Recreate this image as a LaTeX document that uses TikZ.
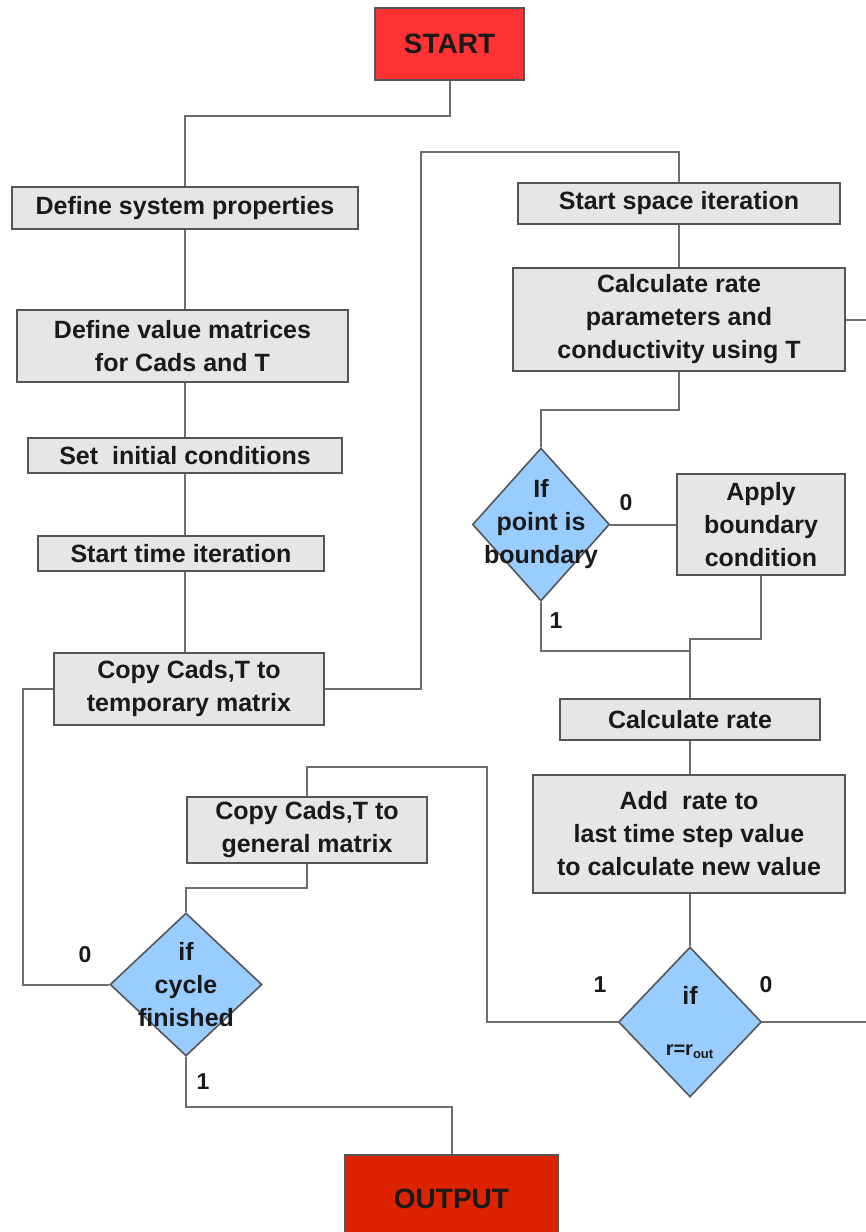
\documentclass[tikz,border=0pt]{standalone}
\usepackage{fontspec}
\setmainfont{Liberation Sans}
\usetikzlibrary{shapes.geometric}
\definecolor{boxfill}{HTML}{E6E6E6}
\definecolor{boxline}{HTML}{555555}
\definecolor{linegray}{HTML}{6E6E6E}
\definecolor{diafill}{HTML}{99CCFF}
\definecolor{startred}{HTML}{FF3333}
\definecolor{outred}{HTML}{DD2200}
\definecolor{txt}{HTML}{1A1A1A}
\tikzset{
  box/.style={draw=boxline, fill=boxfill, line width=0.9pt, inner sep=0pt, align=center,
    text=txt, font=\bfseries\fontsize{12.5}{16.5}\selectfont},
  termbox/.style={box, font=\bfseries\fontsize{14}{17}\selectfont},
  dia/.style={diamond, draw=boxline, fill=diafill, line width=0.8pt, inner sep=0pt},
  dtext/.style={align=center, text=txt, inner sep=0pt, font=\bfseries\fontsize{12.5}{16.5}\selectfont},
  conn/.style={draw=linegray, line width=1pt},
  lbl/.style={text=txt, inner sep=0pt, font=\bfseries\fontsize{11.5}{13}\selectfont}
}
\begin{document}
\begin{tikzpicture}[x=0.5pt,y=-0.5pt]
\useasboundingbox (0,0) rectangle (866,1232);

% nodes
\node[termbox, fill=startred, minimum width=74.5pt, minimum height=36pt] (start) at (449.5,44) {START};
\node[box, minimum width=173pt, minimum height=21pt] (sys) at (185,208) {Define system properties};
\node[box, minimum width=165.5pt, minimum height=36pt] (val) at (182.5,346) {Define value matrices\\for Cads and T};
\node[box, minimum width=157pt, minimum height=17.5pt] (init) at (185,455.5) {Set\ \ initial conditions};
\node[box, minimum width=143pt, minimum height=17.5pt] (time) at (181,553.5) {Start time iteration};
\node[box, minimum width=135pt, minimum height=36pt] (tmp) at (189,689) {Copy Cads,T to\\temporary matrix};
\node[box, minimum width=161pt, minimum height=20.5pt] (space) at (679,203.5) {Start space iteration};
\node[box, minimum width=166pt, minimum height=51.5pt] (rpar) at (679,319.5) {Calculate rate\\parameters and\\conductivity using T};
\node[dia, minimum width=68.5pt, minimum height=76.5pt,
  label={[dtext]center:{If\\point is\\boundary}}] (bnd) at (541,524.5) {};
\node[box, minimum width=84pt, minimum height=50.5pt] (apply) at (761,524.5) {Apply\\boundary\\condition};
\node[box, minimum width=130pt, minimum height=20.5pt] (crate) at (690,719.5) {Calculate rate};
\node[box, minimum width=156pt, minimum height=59pt] (add) at (689,834) {Add\ \ rate to\\last time step value\\to calculate new value};
\node[dia, minimum width=71.5pt, minimum height=75pt,
  label={[dtext]center:{if\\[9pt]{\fontsize{10}{12}\selectfont r=r\textsubscript{\fontsize{6.5}{7}\selectfont out}}}}] (rout) at (690,1022) {};
\node[box, minimum width=120pt, minimum height=33pt] (gen) at (307,830) {Copy Cads,T to\\general matrix};
\node[dia, minimum width=76pt, minimum height=71.5pt,
  label={[dtext]center:{if\\cycle\\finished}}] (cyc) at (186,984.5) {};
\node[termbox, fill=outred, minimum width=106.5pt, minimum height=44pt] (out) at (451.5,1199) {OUTPUT};

% branch labels
\node[lbl] (b0) at (626,503) {0};
\node[lbl] (b1) at (556,621) {1};
\node[lbl] (r1) at (600,985) {1};
\node[lbl] (r0) at (766,985) {0};
\node[lbl] (c0) at (85,955) {0};
\node[lbl] (c1) at (203,1082) {1};

\coordinate (m1) at (690,651);

% connectors
\draw[conn] (start.south) -- ++(0,35) -| (sys.north);
\draw[conn] (sys.south) -- (sys.south |- val.north);
\draw[conn] (val.south -| sys.south) -- (sys.south |- init.north);
\draw[conn] (init.south -| sys.south) -- (sys.south |- time.north);
\draw[conn] (time.south -| sys.south) -- (sys.south |- tmp.north);
\draw[conn] (tmp.east) -| (421,152) -| (space.north);
\draw[conn] (space.south) -- (rpar.north);
\draw[conn] (rpar.east) -- ++(40,0);
\draw[conn] (rpar.south) -- ++(0,38) -| (bnd.north);
\draw[conn] (bnd.east) -- (apply.west);
\draw[conn] (bnd.south) |- (m1);
\draw[conn] (apply.south) -- ++(0,63) -| (crate.north);
\draw[conn] (crate.south) -- (crate.south |- add.north);
\draw[conn] (add.south -| rout.north) -- (rout.north);
\draw[conn] (rout.west) -| (487,767) -| (gen.north);
\draw[conn] (rout.east) -- ++(120,0);
\draw[conn] (gen.south) -- ++(0,24) -| (cyc.north);
\draw[conn] (cyc.west) -- ++(-86,0) |- (tmp.west);
\draw[conn] (cyc.south) -- ++(0,50) -| (out.north);
\end{tikzpicture}
\end{document}
